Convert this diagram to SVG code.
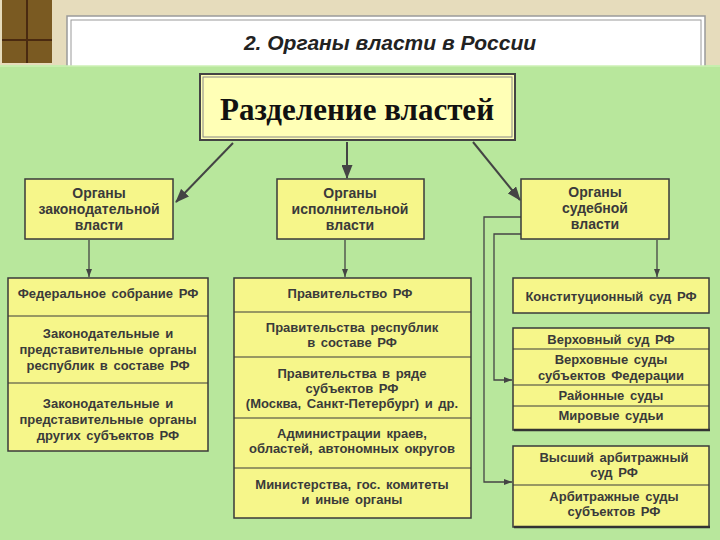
<svg xmlns="http://www.w3.org/2000/svg" width="720" height="540" viewBox="0 0 720 540">
<defs>
<marker id="ah" markerWidth="10" markerHeight="8" refX="9" refY="4" orient="auto" markerUnits="userSpaceOnUse">
<path d="M0,0 L10,4 L0,8 Z" fill="#444"/>
</marker>
<marker id="ahs" markerWidth="8" markerHeight="6" refX="8" refY="3" orient="auto" markerUnits="userSpaceOnUse">
<path d="M0,0 L8,3 L0,6 Z" fill="#444"/>
</marker>
<marker id="ahb" markerWidth="14" markerHeight="11" refX="13" refY="5.5" orient="auto" markerUnits="userSpaceOnUse">
<path d="M0,0 L14,5.5 L0,11 Z" fill="#444"/>
</marker>
</defs>
<style>
.box{fill:#f6f68a;stroke:#3a3a3a;stroke-width:1.5}
.div{stroke:#3a3a3a;stroke-width:1.2}
.t{font-family:"Liberation Sans",Arial,sans-serif;font-weight:bold;font-size:13px;fill:#3a3a3a;text-anchor:middle;word-spacing:2px}
.h{font-family:"Liberation Sans",Arial,sans-serif;font-weight:bold;font-size:14px;fill:#3a3a3a;text-anchor:middle}
.c{stroke:#444;stroke-width:1.3;fill:none}
.cb{stroke:#444;stroke-width:2;fill:none}
</style>
<rect x="0" y="0" width="720" height="540" fill="#b8e79c"/>
<rect x="0" y="0" width="720" height="65" fill="#e6dcbc"/>
<rect x="2" y="0" width="50" height="63" fill="#7a5a22"/>
<line x1="27" y1="0" x2="27" y2="63" stroke="#4a2a10" stroke-width="2"/>
<line x1="2" y1="40" x2="52" y2="40" stroke="#4a2a10" stroke-width="2"/>
<rect x="67" y="16" width="638" height="52" fill="#ffffff" stroke="#9a9a9a" stroke-width="1.5"/>
<rect x="71" y="20" width="630" height="48" fill="none" stroke="#9a9a9a" stroke-width="1"/>
<rect x="0" y="66" width="720" height="474" fill="#b8e79c"/>
<line x1="0" y1="66" x2="720" y2="66" stroke="#cdf0b4" stroke-width="1.5"/>
<text x="390" y="50" font-family="Liberation Sans,Arial,sans-serif" font-weight="bold" font-style="italic" font-size="21" fill="#222" text-anchor="middle">2. Органы власти в России</text>

<g id="connectors">
<line class="cb" x1="233" y1="143" x2="176" y2="202" marker-end="url(#ahb)"/>
<line class="cb" x1="347" y1="142" x2="347" y2="178" marker-end="url(#ahb)"/>
<line class="cb" x1="473" y1="142" x2="520" y2="200" marker-end="url(#ahb)"/>
<line class="c" x1="89" y1="240" x2="89" y2="277" marker-end="url(#ahs)"/>
<line class="c" x1="345" y1="240" x2="345" y2="277" marker-end="url(#ahs)"/>
<line class="c" x1="657" y1="240" x2="657" y2="277" marker-end="url(#ahs)"/>
<polyline class="c" points="521,217 484,217 484,482 512,482" marker-end="url(#ahs)"/>
<polyline class="c" points="521,234 494,234 494,380 512,380" marker-end="url(#ahs)"/>
</g>

<g id="root">
<rect x="200" y="74" width="315" height="66" fill="#ffffb6" stroke="#444" stroke-width="2"/>
<rect x="203" y="77" width="309" height="60" fill="none" stroke="#888" stroke-width="1"/>
<text x="357" y="120" font-family="Liberation Serif,Times New Roman,serif" font-weight="bold" font-size="31" fill="#111" text-anchor="middle">Разделение властей</text>
</g>

<g id="leg">
<rect class="box" x="25" y="179" width="148" height="60"/>
<text class="h" x="99" y="198">Органы</text>
<text class="h" x="99" y="214">законодательной</text>
<text class="h" x="99" y="230">власти</text>
</g>
<g id="exe">
<rect class="box" x="277" y="179" width="147" height="60"/>
<text class="h" x="350" y="198">Органы</text>
<text class="h" x="350" y="214">исполнительной</text>
<text class="h" x="350" y="230">власти</text>
</g>
<g id="jud">
<rect class="box" x="521" y="179" width="148" height="60"/>
<text class="h" x="595" y="197">Органы</text>
<text class="h" x="595" y="213">судебной</text>
<text class="h" x="595" y="229">власти</text>
</g>

<g id="leg-list">
<rect class="box" x="8" y="278" width="200" height="173"/>
<line class="div" x1="8" y1="316" x2="208" y2="316"/>
<line class="div" x1="8" y1="383" x2="208" y2="383"/>
<text class="t" x="108" y="298">Федеральное собрание РФ</text>
<text class="t" x="108" y="338">Законодательные и</text>
<text class="t" x="108" y="354">представительные органы</text>
<text class="t" x="108" y="370">республик в составе РФ</text>
<text class="t" x="108" y="408">Законодательные и</text>
<text class="t" x="108" y="424">представительные органы</text>
<text class="t" x="108" y="440">других субъектов РФ</text>
</g>

<g id="exe-list">
<rect class="box" x="234" y="278" width="237" height="240"/>
<line class="div" x1="234" y1="312" x2="471" y2="312"/>
<line class="div" x1="234" y1="357" x2="471" y2="357"/>
<line class="div" x1="234" y1="418" x2="471" y2="418"/>
<line class="div" x1="234" y1="468" x2="471" y2="468"/>
<text class="t" x="350" y="298">Правительство РФ</text>
<text class="t" x="352" y="332">Правительства республик</text>
<text class="t" x="352" y="347">в составе РФ</text>
<text class="t" x="352" y="378">Правительства в ряде</text>
<text class="t" x="352" y="393">субъектов РФ</text>
<text class="t" x="352" y="408">(Москва, Санкт-Петербург) и др.</text>
<text class="t" x="352" y="438">Администрации краев,</text>
<text class="t" x="352" y="453">областей, автономных округов</text>
<text class="t" x="352" y="489">Министерства, гос. комитеты</text>
<text class="t" x="352" y="504">и иные органы</text>
</g>

<g id="const">
<rect class="box" x="513" y="278" width="196" height="35"/>
<text class="t" x="611" y="301">Конституционный суд РФ</text>
</g>

<g id="general">
<rect class="box" x="513" y="328" width="196" height="102"/>
<line x1="514" y1="430" x2="710" y2="430" stroke="#333" stroke-width="2.5"/>
<line class="div" x1="513" y1="349" x2="709" y2="349"/>
<line class="div" x1="513" y1="385" x2="709" y2="385"/>
<line class="div" x1="513" y1="406" x2="709" y2="406"/>
<text class="t" x="611" y="344">Верховный суд РФ</text>
<text class="t" x="611" y="364">Верховные суды</text>
<text class="t" x="611" y="380">субъектов Федерации</text>
<text class="t" x="611" y="400">Районные суды</text>
<text class="t" x="611" y="420">Мировые судьи</text>
</g>

<g id="arb">
<rect class="box" x="513" y="446" width="196" height="81"/>
<line x1="514" y1="527" x2="710" y2="527" stroke="#333" stroke-width="2.5"/>
<line class="div" x1="513" y1="485" x2="709" y2="485"/>
<text class="t" x="614" y="462">Высший арбитражный</text>
<text class="t" x="614" y="477">суд РФ</text>
<text class="t" x="614" y="501">Арбитражные суды</text>
<text class="t" x="614" y="516">субъектов РФ</text>
</g>
</svg>
